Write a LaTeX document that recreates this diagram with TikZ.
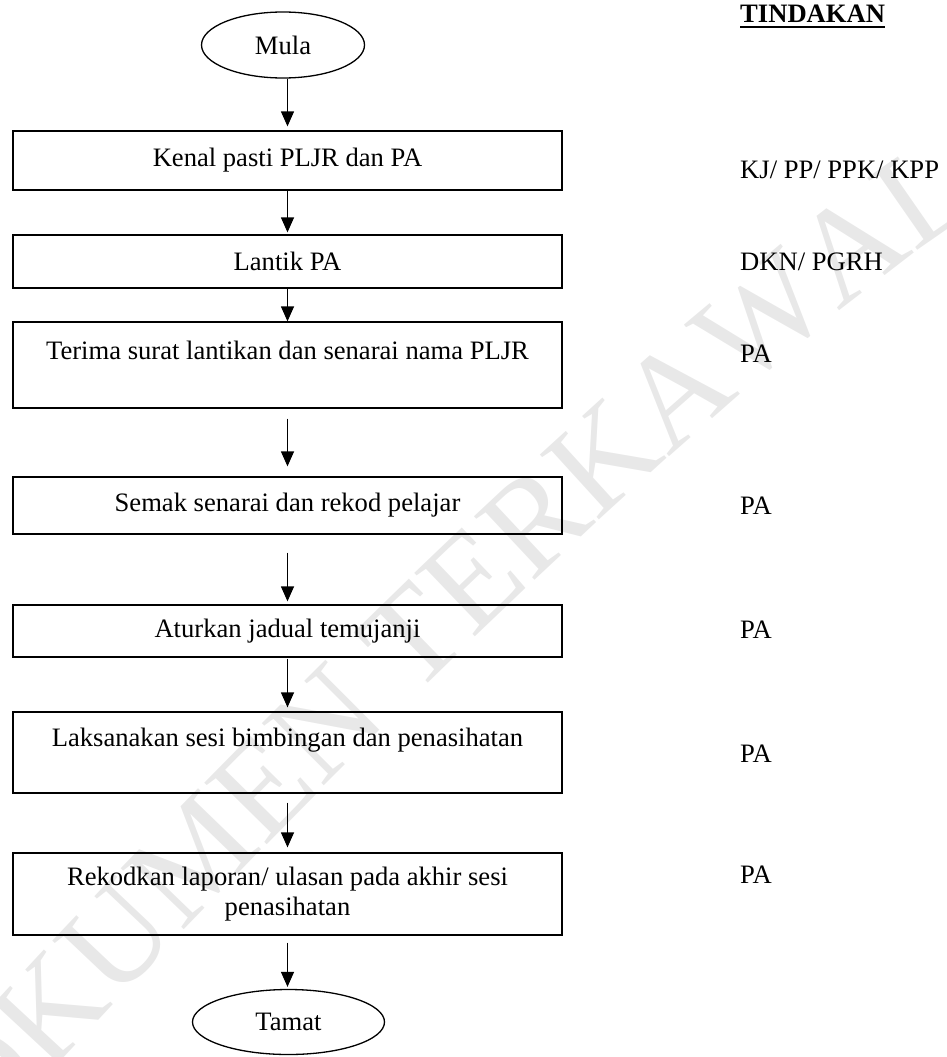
\documentclass[tikz,border=0pt]{standalone}
\usepackage{fontspec}
\setmainfont{Liberation Serif}
\usetikzlibrary{arrows.meta,shapes.geometric,decorations.text}
\newcommand\myfs{\fontsize{26.6}{30}\selectfont}
\newcommand\wmfs{\fontsize{134}{134}\selectfont}
\begin{document}
\begin{tikzpicture}[x=1pt,y=-1pt,
  box/.style={draw, line width=1.3pt, rectangle, minimum width=549pt, inner sep=0pt, align=center, font=\myfs},
  term/.style={draw, line width=1.3pt, ellipse, inner sep=0pt, font=\myfs},
  lab/.style={inner sep=0pt, font=\myfs, anchor=base west},
  arr/.style={-{Triangle[length=15pt,width=13pt]}, line width=1.3pt}]
\useasboundingbox (0,0) rectangle (947,1057);
% watermark
\path[decorate, decoration={text along path, text align=center,
  text={|\wmfs\color{black!9}|DOKUMEN TERKAWAL}}]
  (-130,1280) -- (-66,1203) .. controls (170,930) and (690,400) .. (971,214) -- (1051,168);
% flow
\node[term, minimum width=163pt, minimum height=66pt] (mula) at (283,45) {Mula};
\node[box, minimum height=59pt] (b1) at (287.5,160.5) {Kenal pasti PLJR dan PA};
\node[box, minimum height=53pt] (b2) at (287.5,261.5) {Lantik PA};
\node[box, minimum height=86pt] (b3) at (287.5,365) {Terima surat lantikan dan senarai nama PLJR\\\mbox{}};
\node[box, minimum height=57pt] (b4) at (287.5,505.5) {Semak senarai dan rekod pelajar};
\node[box, minimum height=52pt] (b5) at (287.5,631) {Aturkan jadual temujanji};
\node[box, minimum height=81pt] (b6) at (287.5,752.5) {Laksanakan sesi bimbingan dan penasihatan\\\mbox{}};
\node[box, minimum height=82pt] (b7) at (287.5,894) {Rekodkan laporan/ ulasan pada akhir sesi\\penasihatan};
\node[term, minimum width=192pt, minimum height=65pt] (tamat) at (288.5,1022) {Tamat};
% arrows
\draw[arr, shorten >=4pt] (mula.south -| b1.north) -- (b1.north);
\draw[arr, shorten >=2pt] (b1.south) -- (b2.north);
\draw[arr] (b2.south) -- (b3.north);
\draw[arr, shorten <=10pt, shorten >=10pt] (b3.south) -- (b4.north);
\draw[arr, shorten <=18pt, shorten >=3pt] (b4.south) -- (b5.north);
\draw[arr, shorten <=1pt, shorten >=4pt] (b5.south) -- (b6.north);
\draw[arr, shorten <=9pt, shorten >=5pt] (b6.south) -- (b7.north);
\draw[arr, shorten <=7pt, shorten >=2pt] (b7.south) -- (b7.south |- tamat.north);
% right column
\node[lab] (tind) at (740,23) {\bfseries TINDAKAN};
\draw[line width=1.8pt] ([yshift=-4pt]tind.base west) -- ([yshift=-4pt]tind.base east);
\node[lab] (a1) at (740,178) {KJ/ PP/ PPK/ KPP};
\node[lab] (a2) at (740,270) {DKN/ PGRH};
\node[lab] (a3) at (740,362) {PA};
\node[lab] (a4) at (740,514) {PA};
\node[lab] (a5) at (740,638) {PA};
\node[lab] (a6) at (740,762) {PA};
\node[lab] (a7) at (740,883) {PA};
\end{tikzpicture}
\end{document}
